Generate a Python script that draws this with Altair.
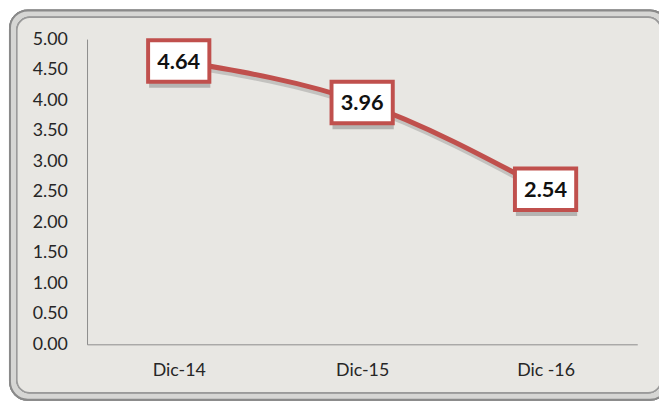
import altair as alt
import pandas as pd

periods = ["Dic-14", "Dic-15", "Dic -16"]
values = [4.64, 3.96, 2.54]
y_ticks = [0, 0.5, 1, 1.5, 2, 2.5, 3, 3.5, 4, 4.5, 5]

df = pd.DataFrame({"period": periods, "value": values, "label": [f"{v:.2f}" for v in values]})

RED = "#c0504d"
FONT = "Lato"
W, H = 557, 309
box_path = "M-1.55,-1.05L1.55,-1.05L1.55,1.05L-1.55,1.05Z"

x = alt.X("period:N", sort=periods, scale=alt.Scale(domain=periods, paddingInner=0, paddingOuter=0),
          axis=alt.Axis(title=None, labelAngle=0, ticks=False, domainColor="#8c8c8c", domainWidth=1,
                        labelFont=FONT, labelFontSize=18, labelColor="#262626", labelPadding=18,
                        grid=False, zindex=1))
y = alt.Y("value:Q", scale=alt.Scale(domain=[0, 5], nice=False),
          axis=alt.Axis(title=None, values=y_ticks, format=".2f", ticks=False, domainColor="#8c8c8c",
                        domainWidth=1, labelFont=FONT, labelFontSize=18, labelColor="#262626",
                        labelPadding=20, grid=False, zindex=1))

base = alt.Chart(df)

frame_outer = base.mark_rect(cornerRadius=18, fill="#d6d6d4", stroke="#8a8a8a", strokeWidth=2).encode(
    x=alt.value(-78), x2=alt.value(588), y=alt.value(-29), y2=alt.value(365))
frame_inner = base.mark_rect(cornerRadius=13, fill="#e8e7e3", stroke="#9a9a9a", strokeWidth=1.5).encode(
    x=alt.value(-71), x2=alt.value(581), y=alt.value(-22), y2=alt.value(358))

line_shadow = base.mark_line(interpolate="monotone", strokeWidth=6, color="#555555", opacity=0.25,
                             yOffset=3).encode(x=x, y=y)
line = base.mark_line(interpolate="monotone", strokeWidth=5, color=RED).encode(x=x, y=y)

shadow = base.mark_point(shape=box_path, size=1600, filled=True, fill="#555555", opacity=0.35,
                         strokeWidth=0, yOffset=6, xOffset=1).encode(x=x, y=y)
boxes = base.mark_point(shape=box_path, size=1600, filled=True, fill="white", stroke=RED,
                        strokeWidth=4, opacity=1).encode(x=x, y=y)
labels = base.mark_text(font=FONT, fontSize=22, fontWeight="bold", color="#111111",
                        baseline="middle", align="center", dy=1).encode(x=x, y=y, text="label:N")

chart = alt.layer(frame_outer, frame_inner, line_shadow, line, shadow, boxes, labels).properties(
    width=W, height=H,
    autosize=alt.AutoSizeParams(type="none"),
    padding={"left": 80, "top": 29, "right": 22, "bottom": 63},
    background="white",
).configure_view(strokeWidth=0)

chart.save("out.html", embed_options={"renderer": "svg", "actions": False})
